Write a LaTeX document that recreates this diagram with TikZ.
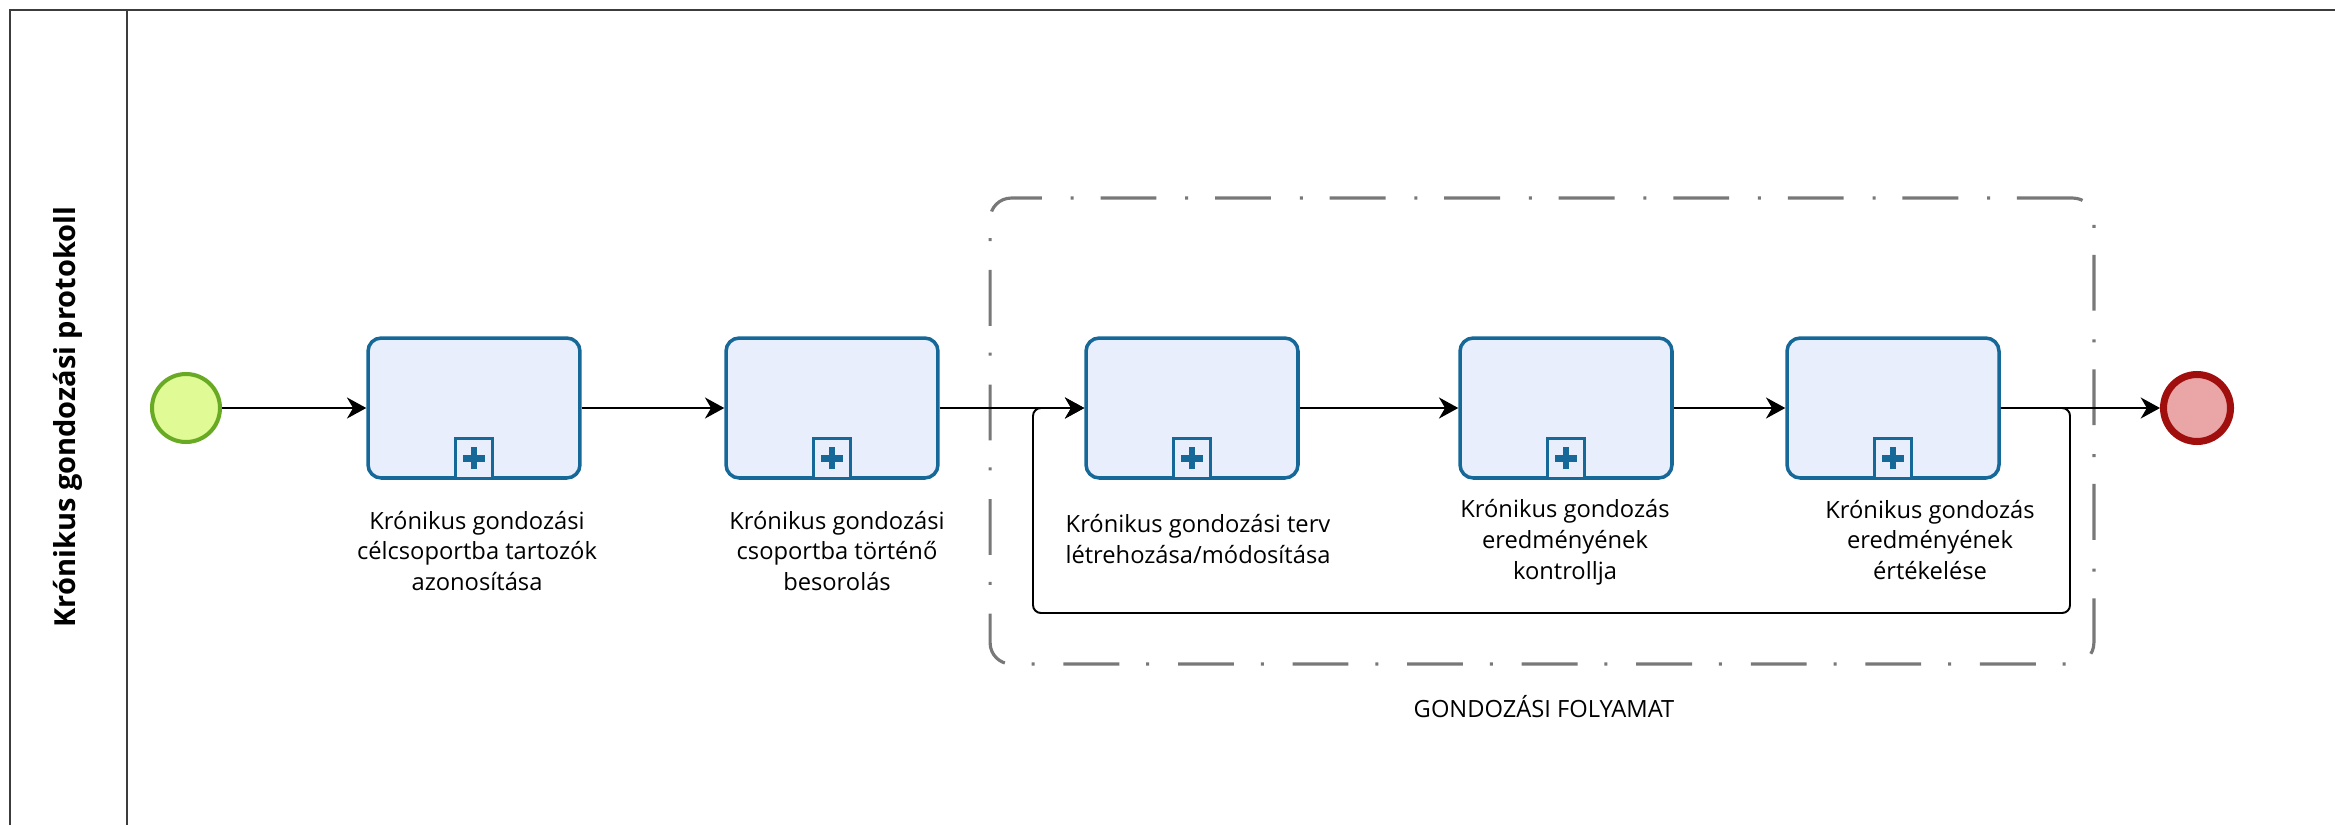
\documentclass[tikz,border=0pt]{standalone}
\usepackage{fontspec}
\setmainfont{Open Sans}
\usetikzlibrary{positioning,arrows.meta}
\definecolor{laneline}{RGB}{60,60,60}
\definecolor{taskblue}{RGB}{22,104,152}
\definecolor{taskfill}{RGB}{233,238,252}
\definecolor{startline}{RGB}{104,170,36}
\definecolor{startfill}{RGB}{224,250,150}
\definecolor{endline}{RGB}{160,14,14}
\definecolor{endfill}{RGB}{234,166,166}
\definecolor{groupgrey}{RGB}{120,120,120}

\begin{document}
\begin{tikzpicture}[x=0.02cm,y=-0.02cm,
  every node/.style={font=\fontsize{13.5}{17.6}\selectfont},
  task/.style={rectangle,rounded corners=7.5pt,draw=taskblue,fill=taskfill,
    line width=2pt,minimum width=4.24cm,minimum height=2.8cm},
  submark/.style={rectangle,draw=taskblue,fill=taskfill,line width=1.7pt,
    minimum width=0.74cm,minimum height=0.8cm,inner sep=0pt,anchor=south},
  plus/.style={draw=taskblue,line width=3.8pt},
  startev/.style={circle,draw=startline,fill=startfill,line width=2.3pt,minimum size=1.36cm},
  endev/.style={circle,draw=endline,fill=endfill,line width=4pt,minimum size=1.34cm},
  flow/.style={-{Stealth[length=11pt,width=12pt,inset=3.5pt]},line width=1.1pt},
  group/.style={rectangle,rounded corners=12pt,draw=groupgrey,line width=1.8pt,
    dash pattern=on 31.8pt off 15.3pt on 1.7pt off 16.4pt,
    minimum width=22.08cm,minimum height=9.32cm},
  lbl/.style={align=center,inner sep=0pt}]
  \useasboundingbox (0,0) rectangle (2335,825);

  % pool frame and lane header
  \draw[laneline,line width=1.7pt] (2335,10) -- (10,10) -- (10,825);
  \draw[laneline,line width=1.7pt] (127,10) -- (127,825);
  \node[rotate=90,font=\fontsize{16.5}{20}\selectfont\bfseries] (lane) at (68,417) {Krónikus gondozási protokoll};

  % group around the care cycle
  \node[group] (grp) at (1542,431) {};
  \node (grplbl) at (1544,707) {GONDOZÁSI FOLYAMAT};

  % events and sub-processes
  \node[startev] (start) at (186,408) {};
  \node[task] (t1) at (474,408) {};
  \node[task] (t2) at (832,408) {};
  \node[task] (t3) at (1192,408) {};
  \node[task] (t4) at (1566,408) {};
  \node[task] (t5) at (1893,408) {};
  \node[endev] (stop) at (2197,408) {};

  % collapsed sub-process markers
  \foreach \t in {t1,t2,t3,t4,t5}{
    \node[submark] (m\t) at (\t.south) {};
    \draw[plus] ([xshift=-0.22cm]m\t.center) -- ([xshift=0.22cm]m\t.center);
    \draw[plus] ([yshift=-0.22cm]m\t.center) -- ([yshift=0.22cm]m\t.center);
  }

  % task labels
  \node[lbl] (l1) at (477,551) {Krónikus gondozási\\célcsoportba tartozók\\azonosítása};
  \node[lbl] (l2) at (837,551) {Krónikus gondozási\\csoportba történő\\besorolás};
  \node[lbl] (l3) at (1198,539) {Krónikus gondozási terv\\létrehozása/módosítása};
  \node[lbl] (l4) at (1565,542) {Krónikus gondozás\\eredményének\\kontrollja};
  \node[lbl] (l5) at (1930,540) {Krónikus gondozás\\eredményének\\értékelése};

  % sequence flows
  \draw[flow] (start) -- (t1);
  \draw[flow] (t1) -- (t2);
  \draw[flow] (t2) -- (t3);
  \draw[flow] (t3) -- (t4);
  \draw[flow] (t4) -- (t5);
  \draw[flow] (t5) -- (stop);

  % back loop
  \coordinate (loopr) at (2070,613);
  \coordinate (loopl) at (1033,613);
  \draw[flow,rounded corners=4.5pt] (t5.east) -| (loopr) -- (loopl) |- (t3.west);
\end{tikzpicture}
\end{document}
